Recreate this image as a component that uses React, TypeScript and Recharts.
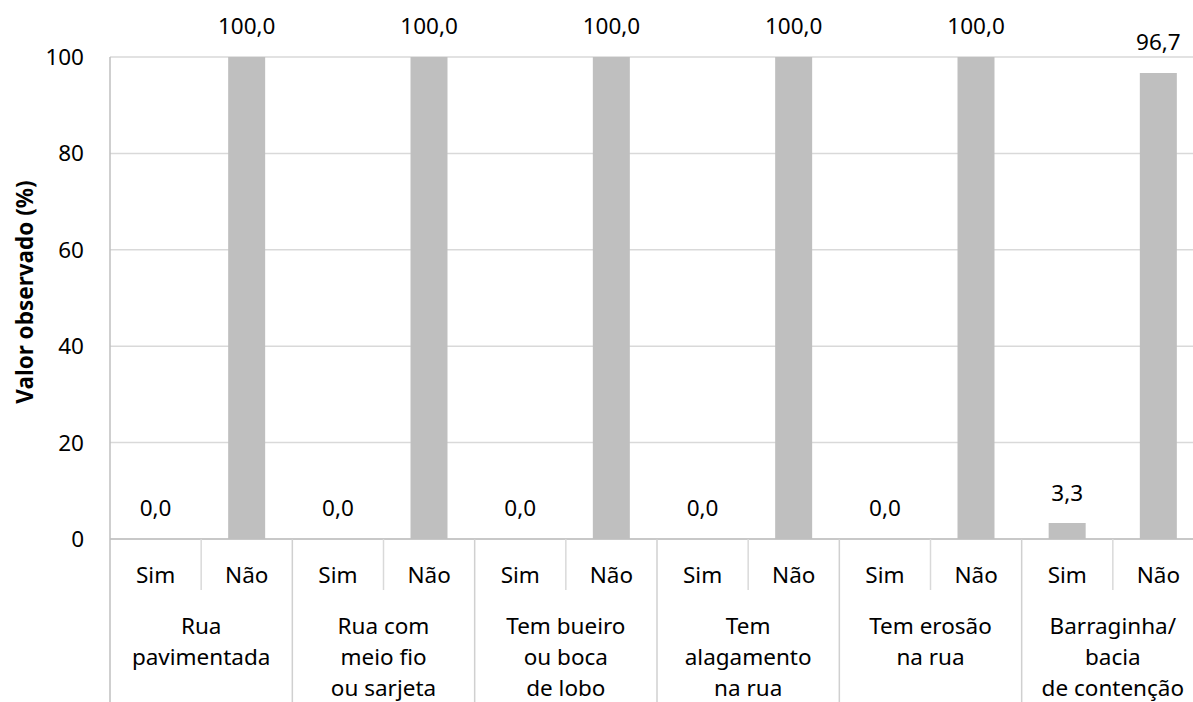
import React from "react";
import { ComposedChart, Bar, Scatter, XAxis, YAxis, CartesianGrid, LabelList } from "recharts";

const groupLabels: string[][] = [
  ["Rua", "pavimentada"],
  ["Rua com", "meio fio", "ou sarjeta"],
  ["Tem bueiro", "ou boca", "de lobo"],
  ["Tem", "alagamento", "na rua"],
  ["Tem erosão", "na rua"],
  ["Barraginha/", "bacia", "de contenção"],
];
const answers = ["Sim", "Não"];
const simValues = [0, 0, 0, 0, 0, 3.3];
const naoValues = [100, 100, 100, 100, 100, 96.7];
const yTicks = [0, 20, 40, 60, 80, 100];

const data = groupLabels.flatMap((g, i) => [
  { key: `${i}-s`, answer: answers[0], value: simValues[i] },
  { key: `${i}-n`, answer: answers[1], value: naoValues[i] },
]);

const W = 1193;
const H = 702;
const LEFT = 110;
const RIGHT_EDGE = 1204;
const TOP = 57;
const BOTTOM = 539;
const BAND = (RIGHT_EDGE - LEFT) / data.length;
const FONT = "'Noto Sans', 'Open Sans', sans-serif";
const FS = 22.5;

const fmt = (v: any) => Number(v).toFixed(1).replace(".", ",");

const XTick = (props: any) => {
  const { x, index, payload } = props;
  const i = index ?? payload?.index ?? 0;
  const row = data[i];
  const right = x + BAND / 2;
  const isNao = i % 2 === 1;
  const g = Math.floor(i / 2);
  return (
    <g>
      <text x={x} y={583} textAnchor="middle" fontFamily={FONT} fontSize={FS} fill="#000">
        {row.answer}
      </text>
      {i === 0 && (
        <line x1={x - BAND / 2} x2={x - BAND / 2} y1={BOTTOM} y2={H} stroke="#BFBFBF" strokeWidth={1.5} />
      )}
      {isNao ? (
        <>
          <line x1={right} x2={right} y1={BOTTOM} y2={H} stroke="#D0D0D0" strokeWidth={1.5} />
          {groupLabels[g].map((t, k) => (
            <text
              key={k}
              x={x - BAND / 2}
              y={634 + k * 31}
              textAnchor="middle"
              fontFamily={FONT}
              fontSize={FS}
              fill="#000"
            >
              {t}
            </text>
          ))}
        </>
      ) : (
        <line x1={right} x2={right} y1={BOTTOM} y2={590} stroke="#D9D9D9" strokeWidth={1.5} />
      )}
    </g>
  );
};

const YTitle = () => (
  <text
    x={24}
    y={292}
    transform="rotate(-90 24 292)"
    textAnchor="middle"
    dominantBaseline="central"
    fontFamily={FONT}
    fontSize={22.5}
    fontWeight="bold"
    fill="#000"
  >
    Valor observado (%)
  </text>
);

const NoShape = () => <g />;

export default function App() {
  return (
    <div style={{ position: "absolute", left: 0, top: 0, width: W, height: H, overflow: "hidden", background: "#fff" }}>
      <ComposedChart
        width={W}
        height={H}
        data={data}
        margin={{ top: TOP, right: W - RIGHT_EDGE, bottom: H - BOTTOM - 130, left: LEFT - 80 }}
        barSize={37}
      >
        <CartesianGrid vertical={false} stroke="#D9D9D9" strokeWidth={1.5} />
        <XAxis
          dataKey="key"
          interval={0}
          height={130}
          tickLine={false}
          axisLine={{ stroke: "#BFBFBF", strokeWidth: 1.5 }}
          tick={<XTick />}
        />
        <YAxis
          width={80}
          domain={[0, 100]}
          ticks={yTicks}
          tickLine={false}
          tickSize={0}
          tickMargin={26}
          axisLine={{ stroke: "#BFBFBF", strokeWidth: 1.5 }}
          tick={{ fontFamily: FONT, fontSize: FS, fill: "#000" }}
          label={<YTitle />}
        />
        <Bar dataKey="value" fill="#BFBFBF" isAnimationActive={false} />
        <Scatter dataKey="value" shape={<NoShape />} isAnimationActive={false}>
          <LabelList
            dataKey="value"
            position="top"
            offset={18}
            formatter={fmt}
            style={{ fontFamily: FONT, fontSize: FS, fill: "#000" }}
          />
        </Scatter>
      </ComposedChart>
    </div>
  );
}
